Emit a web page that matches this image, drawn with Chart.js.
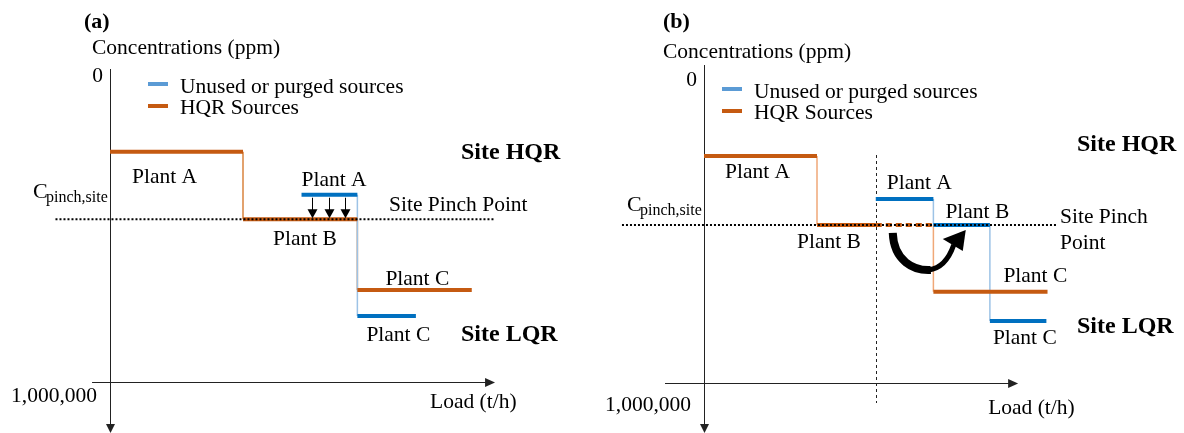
<!DOCTYPE html>
<html>
<head>
<meta charset="utf-8">
<script src="https://cdn.jsdelivr.net/npm/chart.js@4.4.1/dist/chart.umd.min.js"></script>
<style>
body{margin:0;background:#fff;}
#wrap{position:relative;width:1184px;height:433px;overflow:hidden;}
canvas{position:absolute;top:0;}
</style>
</head>
<body>
<div id="wrap">
  <canvas id="chartA" width="592" height="433" style="left:0"></canvas>
  <canvas id="chartB" width="592" height="433" style="left:592px"></canvas>
</div>
<script>
//____________________________ DATA (load in t/h, concentration in ppm) ____________________________
var seriesNames=["Unused or purged sources","HQR Sources"];
var yTickLabels=["0","1,000,000"];
var yTickValues=[0,1000000];
var xTitle="Load (t/h)";
var yTitle="Concentrations (ppm)";

// panel (a)
var a_hqrStart=[0,100,186];
var a_hqrEnd=[100,186,272];
var a_hqrConc=[250000,470000,700000];
var a_hqrNames=["Plant A","Plant B","Plant C"];
var a_unusedStart=[144,186];
var a_unusedEnd=[186,230];
var a_unusedConc=[390000,785000];
var a_unusedNames=["Plant A","Plant C"];
var a_pinch=470000;
var a_shiftLoads=[152,165,177];   // sources pushed down to the pinch

// panel (b)
var b_hqrStart=[0,100,203];
var b_hqrEnd=[100,203,304];
var b_hqrConc=[253000,480000,700000];
var b_hqrNames=["Plant A","Plant B","Plant C"];
var b_unusedStart=[152,203,253];
var b_unusedEnd=[203,253,303];
var b_unusedConc=[395000,480000,796000];
var b_unusedNames=["Plant A","Plant B","Plant C"];
var b_pinch=480000;
var b_cut=152;                    // where plant B source is split

//____________________________ STYLES ____________________________
var ORANGE="#C55A11";
var BLUE="#0070C0";
var BLUE_LEG="#5B9BD5";
var SERIF="'Liberation Serif','Times New Roman',serif";
var FS="21.5px ";

//____________________________ HELPERS ____________________________
function segData(starts,ends,conc){
  var d=[];
  for(var i=0;i<starts.length;i++){
    d.push({x:starts[i],y:conc[i]});
    d.push({x:ends[i],y:conc[i]});
    d.push({x:ends[i],y:null});
  }
  return d;
}
function stepData(ends,conc){
  var d=[];
  for(var i=0;i<conc.length-1;i++){
    d.push({x:ends[i],y:conc[i]});
    d.push({x:ends[i],y:conc[i+1]});
    d.push({x:ends[i],y:null});
  }
  return d;
}
function lineDs(data,color,width,order,dash){
  return {data:data,borderColor:color,borderWidth:width,pointRadius:0,
    tension:0,spanGaps:false,fill:false,order:order,borderDash:dash||[],borderCapStyle:"butt"};
}
function txt(ctx,s,x,y,font,align){
  ctx.font=font;
  ctx.textAlign=align||"left";
  ctx.textBaseline="middle";
  ctx.fillStyle="#000";
  ctx.fillText(s,x,y);
}
function tri(ctx,x1,y1,x2,y2,x3,y3){
  ctx.beginPath();ctx.moveTo(x1,y1);ctx.lineTo(x2,y2);ctx.lineTo(x3,y3);ctx.closePath();ctx.fill();
}

// generic decorations for one panel
function decor(p){
  return {
    id:"decor"+p.tag,
    beforeDatasetsDraw:function(chart){
      var ctx=chart.ctx, xs=chart.scales.x, ys=chart.scales.y;
      var ox=xs.getPixelForValue(0), oy=ys.getPixelForValue(yTickValues[1]);
      ctx.save();
      ctx.strokeStyle="#222";ctx.fillStyle="#222";ctx.lineWidth=1;
      // y axis (downwards)
      ctx.beginPath();ctx.moveTo(Math.round(ox)+0.5,p.yTop);ctx.lineTo(Math.round(ox)+0.5,p.yBottom-8);ctx.stroke();
      tri(ctx,ox-4,p.yBottom-9,ox+5,p.yBottom-9,ox+0.5,p.yBottom);
      // x axis
      var xl=xs.getPixelForValue(p.xAxisFrom), xr=xs.getPixelForValue(p.xAxisTo);
      ctx.beginPath();ctx.moveTo(xl,Math.round(oy)+0.5);ctx.lineTo(xr-9,Math.round(oy)+0.5);ctx.stroke();
      tri(ctx,xr-10,oy-4,xr-10,oy+5,xr,oy+0.5);
      // vertical dashed divider
      if(p.divider!=null){
        var dx=Math.round(xs.getPixelForValue(p.divider))+0.5;
        ctx.setLineDash([3,3]);
        ctx.beginPath();ctx.moveTo(dx,p.divTop);ctx.lineTo(dx,p.divBottom);ctx.stroke();
        ctx.setLineDash([]);
      }
      ctx.restore();
    },
    afterDatasetsDraw:function(chart){
      var ctx=chart.ctx, xs=chart.scales.x, ys=chart.scales.y;
      var ox=xs.getPixelForValue(0);
      var f20=FS+SERIF, fb="bold 24px "+SERIF;
      ctx.save();
      txt(ctx,p.tag,p.tagX,22,"bold 22px "+SERIF);
      txt(ctx,yTitle,p.yTitleX,p.yTitleY,f20);
      txt(ctx,yTickLabels[0],ox-7,ys.getPixelForValue(yTickValues[0])+1,f20,"right");
      txt(ctx,yTickLabels[1],ox-13,ys.getPixelForValue(yTickValues[1])+p.tickDy,f20,"right");
      txt(ctx,xTitle,xs.getPixelForValue(p.xAxisTo)+p.xTitleDx,ys.getPixelForValue(yTickValues[1])+p.xTitleDy,f20);
      // legend
      ctx.lineWidth=4;
      ctx.strokeStyle=BLUE_LEG;
      ctx.beginPath();ctx.moveTo(p.legX,p.legY);ctx.lineTo(p.legX+20,p.legY);ctx.stroke();
      ctx.strokeStyle=ORANGE;
      ctx.beginPath();ctx.moveTo(p.legX,p.legY+22);ctx.lineTo(p.legX+20,p.legY+22);ctx.stroke();
      txt(ctx,seriesNames[0],p.legX+32,p.legY+3,f20);
      txt(ctx,seriesNames[1],p.legX+32,p.legY+24,f20);
      // pinch label
      var py=ys.getPixelForValue(p.pinch);
      txt(ctx,"C",p.cX,py+p.cDy,"22px "+SERIF);
      txt(ctx,"pinch,site",p.cX+13,py+p.cDy+6,"16px "+SERIF);
      for(var k=0;k<p.pinchText.length;k++){
        txt(ctx,p.pinchText[k],p.pinchTextX,py+p.pinchTextDy+k*26,f20);
      }
      txt(ctx,"Site HQR",p.siteX,p.hqrY,fb);
      txt(ctx,"Site LQR",p.siteX,p.lqrY,fb);
      // plant labels
      var i;
      for(i=0;i<p.hqrNames.length;i++){
        txt(ctx,p.hqrNames[i],xs.getPixelForValue(p.hqrStart[i])+p.hqrLab[i][0],ys.getPixelForValue(p.hqrConc[i])+p.hqrLab[i][1],f20);
      }
      for(i=0;i<p.unusedNames.length;i++){
        txt(ctx,p.unusedNames[i],xs.getPixelForValue(p.unusedStart[i])+p.unLab[i][0],ys.getPixelForValue(p.unusedConc[i])+p.unLab[i][1],f20);
      }
      // small shift arrows (a)
      if(p.shift){
        ctx.strokeStyle="#000";ctx.fillStyle="#000";ctx.lineWidth=1;
        var y1=ys.getPixelForValue(p.unusedConc[0])+3, y2=ys.getPixelForValue(p.pinch)-1;
        for(i=0;i<p.shift.length;i++){
          var ax=Math.round(xs.getPixelForValue(p.shift[i]))+0.5;
          ctx.beginPath();ctx.moveTo(ax,y1);ctx.lineTo(ax,y2-8);ctx.stroke();
          tri(ctx,ax-5,y2-9,ax+5,y2-9,ax,y2);
        }
      }
      // curved transfer arrow (b)
      if(p.curve){
        var cx=xs.getPixelForValue(p.divider), cy=ys.getPixelForValue(p.pinch);
        ctx.strokeStyle="#000";ctx.fillStyle="#000";ctx.lineCap="butt";
        ctx.lineWidth=8;
        ctx.beginPath();
        ctx.moveTo(cx+17,cy+8);
        ctx.bezierCurveTo(cx+18,cy+36,cx+38,cy+46,cx+55,cy+45);
        ctx.stroke();
        ctx.lineWidth=5;
        ctx.beginPath();
        ctx.moveTo(cx+53,cy+45);
        ctx.quadraticCurveTo(cx+70,cy+43,cx+78,cy+20);
        ctx.stroke();
        tri(ctx,cx+90,cy+5,cx+67,cy+14,cx+87,cy+26);
      }
      ctx.restore();
    }
  };
}

function buildChart(id,p,datasets){
  return new Chart(document.getElementById(id),{
    type:"line",
    data:{datasets:datasets},
    options:{
      responsive:false,animation:false,
      layout:{padding:0},
      plugins:{legend:{display:false},tooltip:{enabled:false}},
      scales:{
        x:{type:"linear",display:false,min:p.xMin,max:p.xMax},
        y:{type:"linear",display:false,reverse:true,min:p.yMin,max:p.yMax}
      }
    },
    plugins:[decor(p)]
  });
}

//____________________________ PANEL (a) ____________________________
var pA={tag:"(a)",tagX:84,yTitleX:92,yTitleY:48,
  xMin:-82.71,xMax:362.41,yMin:-244300,yMax:1166124,
  yTop:69,yBottom:433,xAxisFrom:-13.5,xAxisTo:289.5,
  tickDy:14,xTitleDx:-65,xTitleDy:20,
  legX:148,legY:84,
  pinch:a_pinch,cX:33,cDy:-27,pinchText:["Site Pinch Point"],pinchTextX:389,pinchTextDy:-14,
  siteX:461,hqrY:153,lqrY:335,
  hqrNames:a_hqrNames,hqrStart:a_hqrStart,hqrConc:a_hqrConc,hqrLab:[[22,26],[30,20],[28,-11]],
  unusedNames:a_unusedNames,unusedStart:a_unusedStart,unusedConc:a_unusedConc,unLab:[[0,-14],[9,19]],
  shift:a_shiftLoads,divider:null,curve:false};

buildChart("chartA",pA,[
  lineDs([{x:-41,y:a_pinch},{x:289.5,y:a_pinch}],"#000",2,0,[2,2]),
  lineDs(segData(a_unusedStart,a_unusedEnd,a_unusedConc),BLUE,4,1),
  lineDs(segData(a_hqrStart,a_hqrEnd,a_hqrConc),ORANGE,4,2),
  lineDs(stepData(a_unusedEnd,a_unusedConc),"#9DC3E6",1.5,3),
  lineDs(stepData(a_hqrEnd,a_hqrConc),"#D9843F",1.5,4)
]);

//____________________________ PANEL (b) ____________________________
var b_hqrSolidEnd=b_hqrEnd.slice(); b_hqrSolidEnd[1]=b_cut;
var pB={tag:"(b)",tagX:71,yTitleX:71,yTitleY:52,
  xMin:-99.12,xMax:424.78,yMin:-259868,yMax:1164474,
  yTop:65,yBottom:433,xAxisFrom:-34.5,xAxisTo:278,
  tickDy:22,xTitleDx:-30,xTitleDy:25,
  legX:130,legY:89,
  pinch:b_pinch,cX:35,cDy:-20,pinchText:["Site Pinch","Point"],pinchTextX:468,pinchTextDy:-8,
  siteX:485,hqrY:145,lqrY:327,
  hqrNames:b_hqrNames,hqrStart:b_hqrStart,hqrConc:b_hqrConc,hqrLab:[[21,16],[-20,17],[70,-15]],
  unusedNames:b_unusedNames,unusedStart:b_unusedStart,unusedConc:b_unusedConc,unLab:[[11,-16],[12,-13],[3,17]],
  shift:null,divider:b_cut,divTop:155,divBottom:403,curve:true};

buildChart("chartB",pB,[
  lineDs([{x:-72.6,y:b_pinch},{x:313,y:b_pinch}],"#000",2,0,[2,2]),
  lineDs(segData(b_unusedStart,b_unusedEnd,b_unusedConc),BLUE,4,1),
  lineDs(segData(b_hqrStart,b_hqrSolidEnd,b_hqrConc),ORANGE,4,2),
  lineDs([{x:b_cut,y:b_hqrConc[1]},{x:b_hqrEnd[1],y:b_hqrConc[1]}],ORANGE,4,2,[6,4]),
  lineDs(stepData(b_unusedEnd,b_unusedConc),"#9DC3E6",1.5,3),
  lineDs(stepData(b_hqrEnd,b_hqrConc),"#F0A878",1.5,4)
]);
</script>
</body>
</html>
